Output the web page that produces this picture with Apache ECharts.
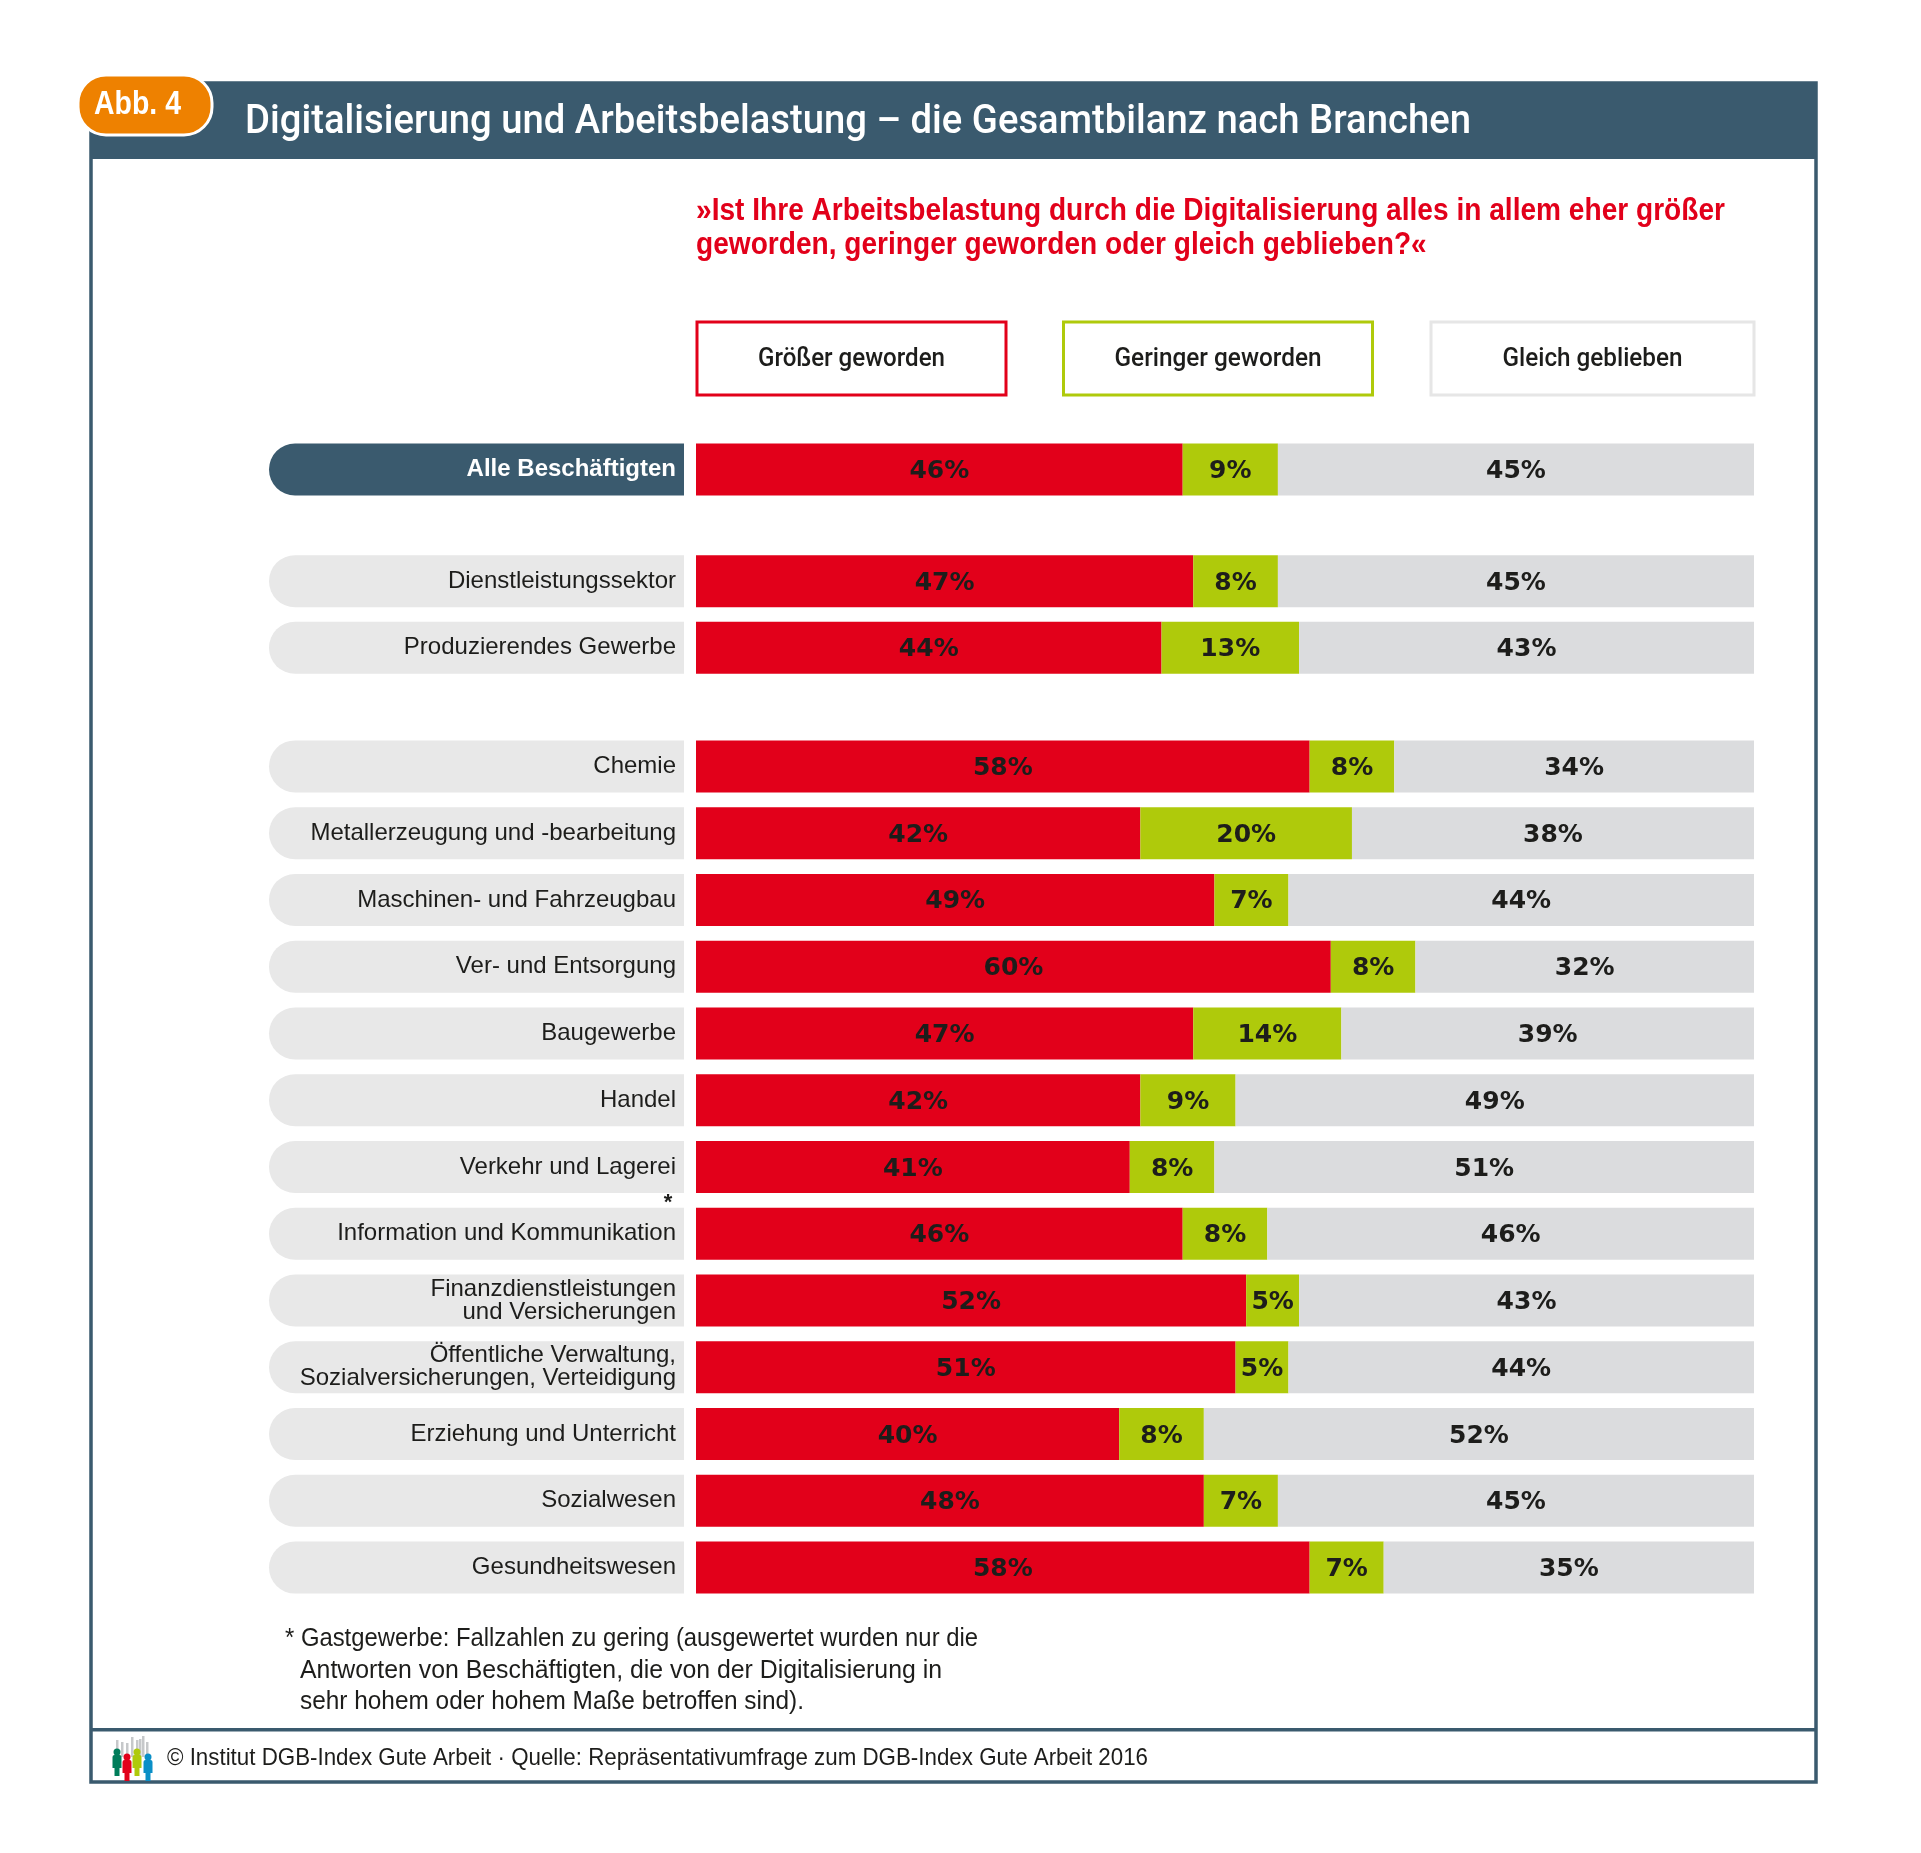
<!DOCTYPE html>
<html><head><meta charset="utf-8">
<style>html,body{margin:0;padding:0;background:#fff}#c{width:1921px;height:1853px}</style>
<script src="https://cdn.jsdelivr.net/npm/echarts@6/dist/echarts.min.js"></script>
</head><body><div id="c"></div>
<script>
const seriesNames=['Größer geworden','Geringer geworden','Gleich geblieben'];
const catA=['Alle Beschäftigten'];
const grosserA=[46],geringerA=[9],gleichA=[45];
const catB=['Dienstleistungssektor','Produzierendes Gewerbe'];
const grosserB=[47,44],geringerB=[8,13],gleichB=[45,43];
const catC=['Chemie','Metallerzeugung und -bearbeitung','Maschinen- und Fahrzeugbau','Ver- und Entsorgung','Baugewerbe','Handel','Verkehr und Lagerei','Information und Kommunikation','Finanzdienstleistungen\nund Versicherungen','Öffentliche Verwaltung,\nSozialversicherungen, Verteidigung','Erziehung und Unterricht','Sozialwesen','Gesundheitswesen'];
const grosserC=[58,42,49,60,47,42,41,46,52,51,40,48,58];
const geringerC=[8,20,7,8,14,9,8,8,5,5,8,7,7];
const gleichC=[34,38,44,32,39,49,51,46,43,44,52,45,35];
const question='»Ist Ihre Arbeitsbelastung durch die Digitalisierung alles in allem eher größer\ngeworden, geringer geworden oder gleich geblieben?«';
const titleText='Digitalisierung und Arbeitsbelastung – die Gesamtbilanz nach Branchen';
const footnoteLines=['* Gastgewerbe: Fallzahlen zu gering (ausgewertet wurden nur die','Antworten von Beschäftigten, die von der Digitalisierung in','sehr hohem oder hohem Maße betroffen sind).'];
const sourceText='© Institut DGB-Index Gute Arbeit · Quelle: Repräsentativumfrage zum DGB-Index Gute Arbeit 2016';

const SANS='"Liberation Sans",sans-serif';
const ROBOTO='Roboto,sans-serif';
const NAVY='#3a5a6e',RED='#e2001a',GREEN='#afca0b',GREY='#dbdcde',PILL='#e8e8e8';
const colors=[RED,GREEN,GREY];
const grids=[{top:443,height:53,cats:catA,vals:[grosserA,geringerA,gleichA],dark:true},
 {top:548,height:133,cats:catB,vals:[grosserB,geringerB,gleichB]},
 {top:733,height:868,cats:catC,vals:[grosserC,geringerC,gleichC]}];
const option={animation:false,backgroundColor:'#fff',grid:[],xAxis:[],yAxis:[],series:[],
 graphic:{elements:[]}};
grids.forEach((g,i)=>{
 option.grid.push({left:696,width:1058,top:g.top,height:g.height});
 option.xAxis.push({gridIndex:i,type:'value',min:0,max:100,show:false});
 option.yAxis.push({gridIndex:i,type:'category',inverse:true,data:g.cats,
  axisLine:{show:false},axisTick:{show:false},splitLine:{show:false},
  axisLabel:{margin:12,width:407,height:50,lineHeight:23,align:'right',verticalAlign:'middle',overflow:'none',
   padding:[2,8,0,0],fontFamily:SANS,fontSize:24,fontWeight:g.dark?'bold':'normal',color:g.dark?'#fff':'#1d1d1b',
   backgroundColor:g.dark?NAVY:PILL,borderRadius:[26,0,0,26]}});
 g.vals.forEach((v,k)=>option.series.push({type:'bar',name:seriesNames[k],xAxisIndex:i,yAxisIndex:i,stack:'s'+i,data:v,barWidth:52,
  itemStyle:{color:colors[k]},
  label:{show:true,position:'inside',offset:[0,2],formatter:'{c}%',fontFamily:'"DejaVu Sans",sans-serif',fontWeight:'bold',fontSize:25,color:'#1d1d1b'}}));
});
const E=option.graphic.elements;
const ctx=document.createElement('canvas').getContext('2d');
const rect=(x,y,w,h,style,r,z)=>E.push({type:'rect',silent:true,z:z||1,shape:{x,y,width:w,height:h,r:r||0},style});
// text squeezed to the width it has in the reference; target measured on its first line
const text=(x,y,t,s,target)=>{
 const st=Object.assign({text:t,fontFamily:SANS,fill:'#1d1d1b'},s);
 let scaleX=1;
 if(target){ctx.font=`${st.fontWeight||'normal'} ${st.fontSize}px ${st.fontFamily}`;scaleX=target/ctx.measureText(t.split('\n')[0]).width;}
 E.push({type:'text',silent:true,z:10,x,y,scaleX,style:st});
};
// frame
rect(91,83,1725,1699,{fill:'none',stroke:NAVY,lineWidth:3.5});
rect(90,82,1727,77,{fill:NAVY});
rect(90,1728,1727,3.5,{fill:NAVY});
// badge
rect(78,75,134,60,{fill:'#ee8100',stroke:'#fff',lineWidth:3},[28,28,28,28],5);
text(94,105,'Abb. 4',{fontSize:33,fontWeight:'bold',fill:'#fff',verticalAlign:'middle'},87);
text(245,123,titleText,{fontFamily:ROBOTO,fontSize:40,fontWeight:500,fill:'#fff',verticalAlign:'middle'},1226);
text(696,194,question,{fontSize:31,fontWeight:'bold',fill:RED,lineHeight:34},1029);
// legend boxes
[[697,322,309,RED,187],[1063.5,322,309,GREEN,207],[1431,322,323,'#e6e6e6',180]].forEach((b,i)=>{
 rect(b[0],b[1],b[2],73,{fill:'#fff',stroke:b[3],lineWidth:3});
 text(b[0]+b[2]/2,b[1]+37,seriesNames[i],{fontFamily:ROBOTO,fontSize:26,fontWeight:500,align:'center',verticalAlign:'middle'},b[4]);
});
text(668,1192,'*',{fontSize:22,fontWeight:'bold',align:'center'});
text(285,1627,footnoteLines[0],{fontSize:25},693);
text(300,1659,footnoteLines[1],{fontSize:25},642);
text(300,1690,footnoteLines[2],{fontSize:25},504);
text(167,1746,sourceText,{fontSize:24},981);
// logo
for(const [x,top] of [[116,1740],[121,1742],[126,1743],[131,1737],[136,1740],[139,1739],[142,1736],[146,1742]])
 rect(x,top,2.5,1757-top,{fill:'#c6c8ca'},0,2);
[[117,'#007d5a',0],[127,RED,5],[137,GREEN,0],[148,'#0a8fc7',5]].forEach(p=>{
 E.push({type:'circle',silent:true,z:6,shape:{cx:p[0],cy:1752+p[2],r:3.5},style:{fill:p[1]}});
 rect(p[0]-4.5,1755+p[2],9,13,{fill:p[1]},[2,2,0,0],6);
 rect(p[0]-2.5,1768+p[2],5,8,{fill:p[1]},0,6);
});
echarts.init(document.getElementById('c'),null,{renderer:'canvas'}).setOption(option);
</script></body></html>
